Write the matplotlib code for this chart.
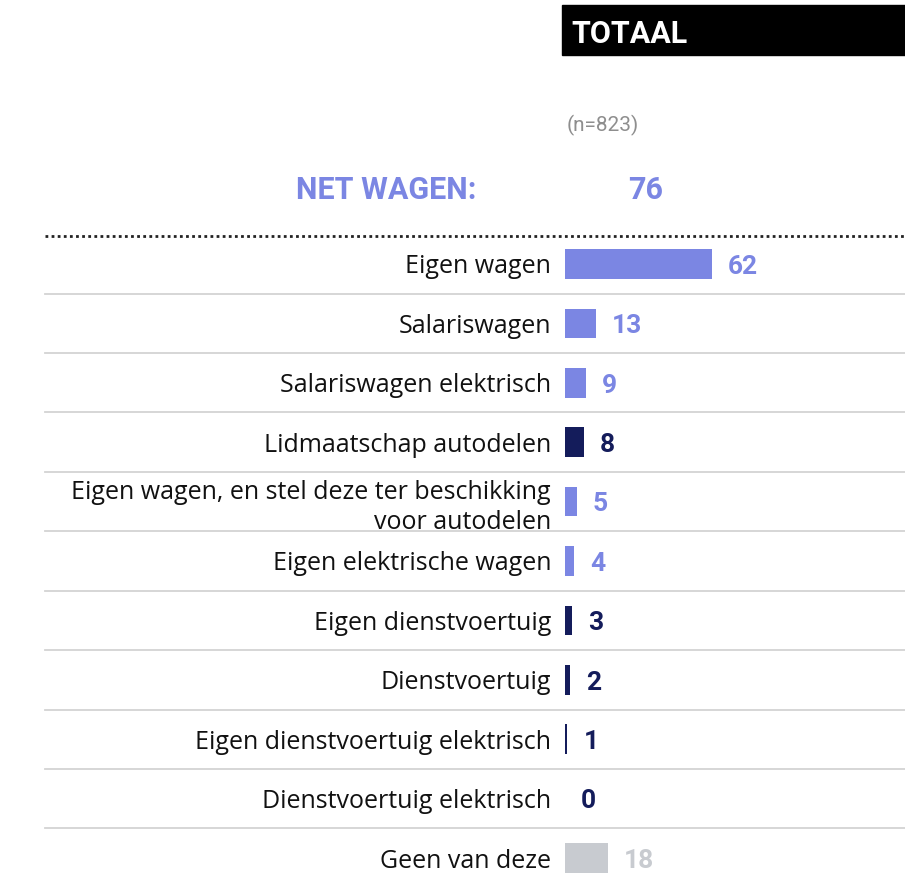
import matplotlib.pyplot as plt
from matplotlib.patches import Rectangle
from matplotlib.transforms import blended_transform_factory

categories = ["Eigen wagen", "Salariswagen", "Salariswagen elektrisch",
              "Lidmaatschap autodelen",
              "Eigen wagen, en stel deze ter beschikking\nvoor autodelen",
              "Eigen elektrische wagen", "Eigen dienstvoertuig", "Dienstvoertuig",
              "Eigen dienstvoertuig elektrisch", "Dienstvoertuig elektrisch",
              "Geen van deze"]
values = [62, 13, 9, 8, 5, 4, 3, 2, 1, 0, 18]
groups = ["wagen", "wagen", "wagen", "delen", "wagen", "wagen",
          "dienst", "dienst", "dienst", "dienst", "geen"]
net_label = "NET WAGEN:"
net_value = 76
sample = "(n=823)"
title = "TOTAAL"

light = "#7B86E3"
navy = "#141C5B"
grey = "#C8CBD0"
colours = {"wagen": light, "delen": navy, "dienst": navy, "geen": grey}

W, H = 905, 873
fig = plt.figure(figsize=(W / 100, H / 100), dpi=100)

# bar area: x from 565px to right edge, y from dotted line down to bottom
top_px, row_px, first_px = 236, 59.4, 264
ax = fig.add_axes([565 / W, 0, 340 / W, 1 - top_px / H])
n = len(values)
ax.set_ylim((H - first_px) / row_px, -(first_px - top_px) / row_px)
ax.set_xlim(0, 340 / 2.37)

bar_cols = [colours[g] for g in groups]
ax.barh(range(n), values, height=0.5, color=bar_cols)
for i, v in enumerate(values):
    ax.annotate(str(v), (v, i), xytext=(11.5, -2), textcoords="offset points",
                va="center", ha="left", fontsize=19, fontweight="bold",
                family="Roboto", color=bar_cols[i])

ax.set_yticks(range(n))
ax.set_yticklabels(categories, fontsize=18, family="Open Sans",
                   color="#111111", linespacing=1.3)
ax.tick_params(axis="y", length=0, pad=10)
ax.set_xticks([])
for s in ax.spines.values():
    s.set_visible(False)

tr = blended_transform_factory(fig.transFigure, ax.transData)
for i in range(n - 1):
    ax.plot([45 / W, 1], [i + 0.5, i + 0.5], transform=tr, color="#D3D3D3",
            lw=1.3, clip_on=False)
ax.plot([45 / W, 1], [ax.get_ylim()[1]] * 2, transform=tr, color="#222222",
        lw=2, ls=(0, (1, 1.2)), clip_on=False)

# header
fig.patches.append(Rectangle((562 / W, 1 - 55 / H), 1 - 562 / W, 50 / H,
                             transform=fig.transFigure, color="black"))
fig.text(571 / W, 1 - 43 / H, title, color="white", fontsize=22,
         fontweight="bold", family="Roboto", va="baseline")
fig.text(567 / W, 1 - 131 / H, sample, color="#8E8E8E", fontsize=15,
         family="Roboto", va="baseline")
fig.text(476 / W, 1 - 199 / H, net_label, color=light, fontsize=22,
         fontweight="bold", family="Roboto", va="baseline", ha="right")
fig.text(628 / W, 1 - 199 / H, str(net_value), color=light, fontsize=22,
         fontweight="bold", family="Roboto", va="baseline")

fig.savefig("out.png", dpi=100)
